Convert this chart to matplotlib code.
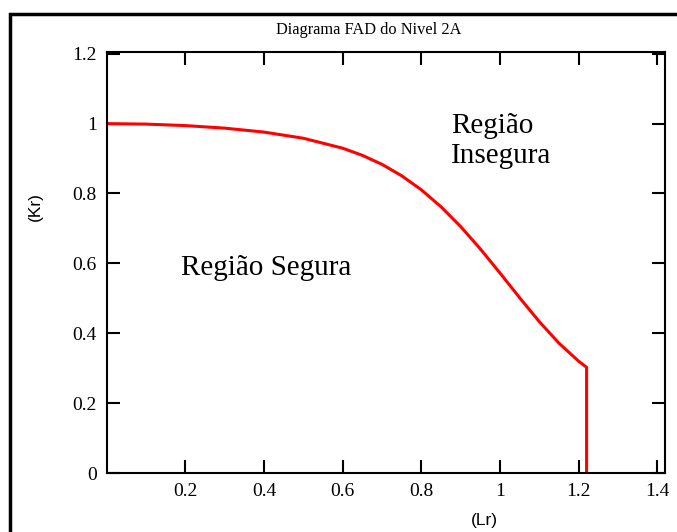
import matplotlib
matplotlib.use("Agg")
import matplotlib.pyplot as plt
from matplotlib.patches import Rectangle

# Data
lr = [0.0, 0.1, 0.2, 0.3, 0.4, 0.5, 0.6, 0.65, 0.7, 0.75, 0.8, 0.85, 0.9, 0.95,
      1.0, 1.05, 1.1, 1.15, 1.2, 1.22, 1.22]
kr = [1.0, 0.9986, 0.9944, 0.9871, 0.9758, 0.9582, 0.9297, 0.9093, 0.8834, 0.8508,
      0.8106, 0.7621, 0.7053, 0.6413, 0.5723, 0.5014, 0.4330, 0.3713, 0.3198, 0.3025, 0.0]

xticks = [0.2, 0.4, 0.6, 0.8, 1.0, 1.2, 1.4]
xticklabels = ["0.2", "0.4", "0.6", "0.8", "1", "1.2", "1.4"]
yticks = [0.0, 0.2, 0.4, 0.6, 0.8, 1.0, 1.2]
yticklabels = ["0", "0.2", "0.4", "0.6", "0.8", "1", "1.2"]

title = "Diagrama FAD do Nivel 2A"
xlabel = "(Lr)"
ylabel = "(Kr)"
safe_text = "Região Segura"
unsafe_text = "Região\nInsegura"

W, H = 677, 532
fig = plt.figure(figsize=(W / 100, H / 100), dpi=100)
fig.patch.set_facecolor("white")

# outer frame
fig.add_artist(Rectangle((9.5 / W, -0.1), 1.2, 1.1 - 13.5 / H, transform=fig.transFigure,
                         fill=False, edgecolor="black", linewidth=2.5))

ax = fig.add_axes([106.5 / W, (H - 473) / H, (664.5 - 106.5) / W, (473 - 52) / H])
ax.plot(lr, kr, color="#ff0000", linewidth=2.2, solid_joinstyle="round")
ax.set_xlim(0, 1.418)
ax.set_ylim(0, 1.205)

ax.set_xticks(xticks)
ax.set_xticklabels(xticklabels)
ax.set_yticks(yticks)
ax.set_yticklabels(yticklabels)
ax.tick_params(direction="in", length=9.5, width=1.5, top=True, right=True,
               labelsize=14, colors="black")
ax.tick_params(axis="x", pad=7)
ax.tick_params(axis="y", pad=7)
for lab in ax.get_xticklabels() + ax.get_yticklabels():
    lab.set_family("Liberation Serif")
for sp in ax.spines.values():
    sp.set_linewidth(1.5)

fig.text(369 / W, 1 - 30 / H, title, ha="center", va="center",
         family="Liberation Serif", fontsize=11.8)
fig.text(484 / W, 1 - 520 / H, xlabel, ha="center", va="center",
         family="Liberation Sans", fontsize=12.5)
fig.text(35 / W, 1 - 207 / H, ylabel, ha="center", va="center", rotation=90,
         family="Liberation Sans", fontsize=12.5)

ax.text(0.19, 0.587, safe_text, ha="left", va="center", family="Liberation Serif",
        fontsize=21)
ax.text(0.875, 0.951, unsafe_text, ha="left", va="center", family="Liberation Serif",
        fontsize=21, linespacing=1.2)

fig.savefig("out.png", dpi=100, facecolor="white")
